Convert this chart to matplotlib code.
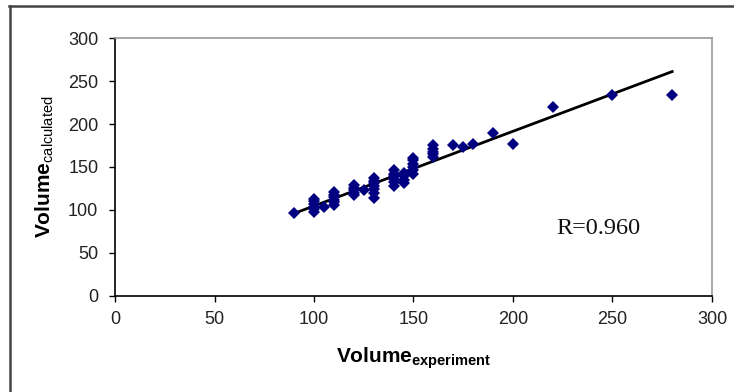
import numpy as np
import matplotlib.pyplot as plt
from matplotlib.lines import Line2D

plt.rcParams['font.family'] = ['Liberation Sans', 'DejaVu Sans']
plt.rcParams['mathtext.fontset'] = 'custom'
plt.rcParams['mathtext.rm'] = 'Liberation Sans'
plt.rcParams['mathtext.bf'] = 'Liberation Sans:bold'

# measured vs calculated volumes, grouped by experimental volume
exp_values = [90, 100, 105, 110, 120, 125, 130, 140, 145, 150,
              160, 170, 175, 180, 190, 200, 220, 250, 280]
calc_values = [
    [96],
    [98, 101, 104, 107, 110, 113],
    [104],
    [106, 109, 112, 115, 118, 121],
    [117, 120, 123, 126, 129],
    [123],
    [114, 120, 124, 128, 131, 134, 137],
    [128, 132, 136, 139, 142, 146],
    [131, 135, 139, 143],
    [142, 146, 150, 154, 158, 161],
    [162, 165, 168, 171, 175],
    [176],
    [173],
    [177],
    [190],
    [177],
    [220],
    [234],
    [234],
]

# trend line end points
trend_x = [90, 280]
trend_y = [96, 261]

x_ticks = [0, 50, 100, 150, 200, 250, 300]
y_ticks = [0, 50, 100, 150, 200, 250, 300]

xs = []
ys = []
for x, group in zip(exp_values, calc_values):
    for y in group:
        xs.append(x)
        ys.append(y)

fig = plt.figure(figsize=(7.34, 3.92), dpi=100)
ax = fig.add_axes([0.1567, 0.245, 0.8133, 0.658])

ax.plot(xs, ys, 'D', color='#000080', markersize=6.5, markeredgewidth=0, zorder=3)
ax.plot(trend_x, trend_y, color='black', linewidth=2, zorder=2)

ax.set_xlim(0, 300)
ax.set_ylim(0, 300)
ax.set_xticks(x_ticks)
ax.set_yticks(y_ticks)
ax.tick_params(direction='out', length=4, width=1, labelsize=13,
               labelcolor='#222222')
ax.tick_params(axis='x', pad=7)
ax.tick_params(axis='y', pad=8)

for side in ['left', 'bottom']:
    ax.spines[side].set_color('black')
    ax.spines[side].set_linewidth(1.2)
for side in ['top', 'right']:
    ax.spines[side].set_color('#999999')
    ax.spines[side].set_linewidth(1.2)

ax.set_xlabel(r'$\mathbf{Volume}_{\mathbf{experiment}}$', fontsize=15, labelpad=12)
ax.set_ylabel(r'$\mathbf{Volume}_{\mathrm{calculated}}$', fontsize=15, labelpad=9)

ax.text(222, 79, 'R=0.960', family='Liberation Serif', fontsize=17.5,
        ha='left', va='center', color='#111111')

# outer chart frame (only top and left edges visible)
fig.add_artist(Line2D([9 / 734, 1], [1 - 6 / 392, 1 - 6 / 392], color='#444444', linewidth=1.8))
fig.add_artist(Line2D([10 / 734, 10 / 734], [0, 1 - 6 / 392], color='#444444', linewidth=1.8))

fig.savefig('out.png', dpi=100)
